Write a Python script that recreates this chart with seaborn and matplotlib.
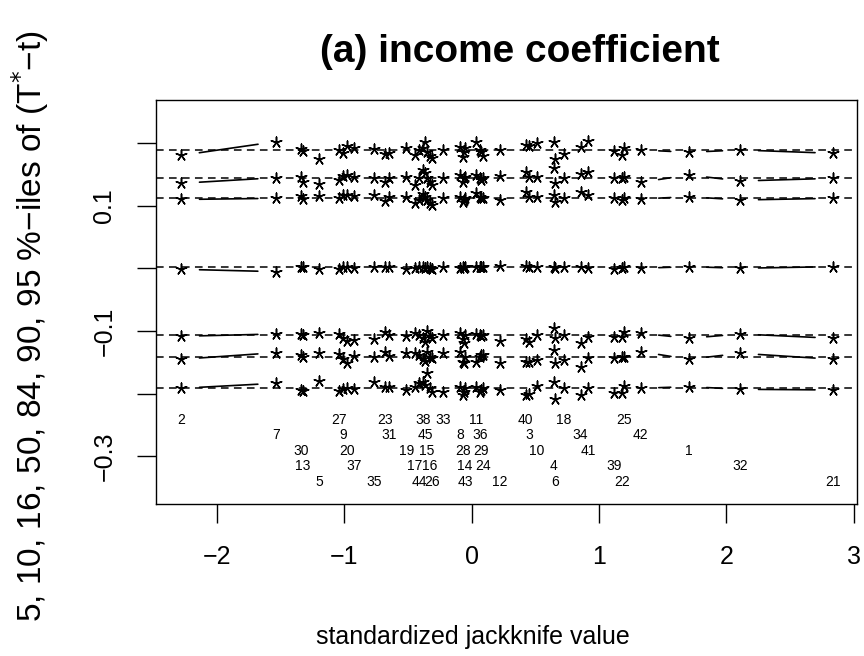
import numpy as np
import pandas as pd
import seaborn as sns
import matplotlib
matplotlib.use("Agg")
import matplotlib.pyplot as plt

sns.set_theme(style="ticks")
plt.rcParams['font.family'] = ['Liberation Sans', 'DejaVu Sans']
plt.rcParams['axes.unicode_minus'] = True
plt.rcParams['text.color'] = 'black'
plt.rcParams['axes.labelcolor'] = 'black'
plt.rcParams['xtick.color'] = 'black'
plt.rcParams['ytick.color'] = 'black'

# observations sorted by standardized jackknife value
obs_id = [2, 7, 30, 13, 5, 27, 9, 20, 37, 35, 23, 31, 19, 17, 44, 38, 45, 15, 16, 26,
          33, 8, 28, 14, 43, 11, 36, 29, 24, 12, 40, 3, 10, 4, 6, 18, 34, 41, 39, 22,
          25, 42, 1, 32, 21]
jack_value = [-2.275, -1.535, -1.339, -1.321, -1.195, -1.041, -1.007, -0.980, -0.923, -0.766,
              -0.680, -0.646, -0.510, -0.445, -0.411, -0.380, -0.364, -0.348, -0.327, -0.306,
              -0.223, -0.092, -0.066, -0.056, -0.049, 0.034, 0.065, 0.078, 0.091, 0.222,
              0.426, 0.452, 0.510, 0.645, 0.653, 0.726, 0.855, 0.914, 1.118, 1.184,
              1.195, 1.328, 1.704, 2.110, 2.836]

# percentiles of (T* - t) with each observation removed
p05 = [-0.1914, -0.1834, -0.1941, -0.1952, -0.1793, -0.1952, -0.1930, -0.1914, -0.1930, -0.1809,
       -0.1888, -0.1888, -0.1941, -0.1888, -0.1834, -0.1809, -0.1861, -0.1675, -0.1914, -0.1968,
       -0.1968, -0.1888, -0.2021, -0.1968, -0.1914, -0.1888, -0.1968, -0.1941, -0.1914, -0.1941,
       -0.2021, -0.2005, -0.1877, -0.1809, -0.2089, -0.1914, -0.2021, -0.1914, -0.1984, -0.1984,
       -0.1877, -0.1914, -0.1888, -0.1930, -0.1941]
p10 = [-0.1451, -0.1346, -0.1383, -0.1410, -0.1356, -0.1367, -0.1451, -0.1515, -0.1399, -0.1410,
       -0.1330, -0.1399, -0.1356, -0.1356, -0.1383, -0.1451, -0.1474, -0.1330, -0.1410, -0.1435,
       -0.1356, -0.1330, -0.1490, -0.1515, -0.1410, -0.1490, -0.1419, -0.1383, -0.1383, -0.1515,
       -0.1490, -0.1502, -0.1463, -0.1303, -0.1515, -0.1463, -0.1569, -0.1435, -0.1435, -0.1419,
       -0.1410, -0.1330, -0.1451, -0.1356, -0.1451]
p16 = [-0.1085, -0.1048, -0.1048, -0.1064, -0.1027, -0.1048, -0.1116, -0.1155, -0.1144, -0.1132,
       -0.1011, -0.1064, -0.1080, -0.1037, -0.1064, -0.1116, -0.1171, -0.0995, -0.1080, -0.1116,
       -0.1064, -0.1037, -0.1132, -0.1196, -0.1064, -0.1048, -0.1064, -0.1080, -0.1064, -0.1155,
       -0.1132, -0.1171, -0.1064, -0.0957, -0.1116, -0.1064, -0.1196, -0.1091, -0.1091, -0.1091,
       -0.1011, -0.1037, -0.1116, -0.1048, -0.1116]
p50 = [-0.0016, -0.0054, 0.0026, 0.0021, -0.0016, -0.0016, 0.0026, 0.0026, 0.0000, 0.0026,
       0.0026, 0.0026, -0.0016, 0.0005, 0.0021, 0.0026, 0.0000, 0.0021, 0.0000, -0.0016,
       0.0026, 0.0000, 0.0026, 0.0000, 0.0021, 0.0026, 0.0026, 0.0021, 0.0026, 0.0037,
       0.0037, 0.0026, 0.0026, 0.0026, 0.0000, 0.0026, 0.0026, 0.0000, -0.0016, 0.0000,
       0.0026, 0.0000, 0.0026, 0.0000, 0.0026]
p84 = [0.1097, 0.1116, 0.1153, 0.1100, 0.1153, 0.1116, 0.1169, 0.1169, 0.1153, 0.1169,
       0.1073, 0.1137, 0.1142, 0.1037, 0.1089, 0.1180, 0.1142, 0.1089, 0.1037, 0.1010,
       0.1116, 0.1142, 0.1062, 0.1089, 0.1126, 0.1196, 0.1142, 0.1126, 0.1116, 0.1089,
       0.1212, 0.1137, 0.1137, 0.1169, 0.1062, 0.1126, 0.1222, 0.1169, 0.1126, 0.1089,
       0.1126, 0.1105, 0.1142, 0.1089, 0.1116]
p90 = [0.1356, 0.1445, 0.1461, 0.1381, 0.1340, 0.1408, 0.1472, 0.1488, 0.1456, 0.1445,
       0.1381, 0.1445, 0.1461, 0.1329, 0.1435, 0.1568, 0.1515, 0.1445, 0.1381, 0.1329,
       0.1445, 0.1488, 0.1381, 0.1445, 0.1461, 0.1488, 0.1445, 0.1408, 0.1435, 0.1477,
       0.1541, 0.1461, 0.1461, 0.1595, 0.1356, 0.1445, 0.1499, 0.1541, 0.1445, 0.1435,
       0.1461, 0.1372, 0.1488, 0.1392, 0.1435]
p95 = [0.1802, 0.2019, 0.1903, 0.1871, 0.1743, 0.1887, 0.1839, 0.1951, 0.1919, 0.1903,
       0.1818, 0.1834, 0.1923, 0.1807, 0.1887, 0.1914, 0.2010, 0.1860, 0.1796, 0.1764,
       0.1887, 0.1939, 0.1780, 0.1860, 0.1914, 0.2010, 0.1887, 0.1860, 0.1796, 0.1887,
       0.1967, 0.1955, 0.1994, 0.2010, 0.1738, 0.1818, 0.1939, 0.2030, 0.1871, 0.1807,
       0.1923, 0.1887, 0.1850, 0.1887, 0.1834]

# percentiles from the full bootstrap (dashed lines)
overall = [-0.1914, -0.1410, -0.1064, 0.0021, 0.1126, 0.1445, 0.1887]

pct_cols = {"5": p05, "10": p10, "16": p16, "50": p50, "84": p84, "90": p90, "95": p95}
df = pd.DataFrame({"jack": jack_value, "obs": obs_id, **pct_cols})
long_df = df.melt(id_vars=["jack", "obs"], var_name="pct", value_name="value")

fig = plt.figure(figsize=(8.64, 6.56), dpi=100)
ax = fig.add_axes([156 / 864, 1 - 504 / 656, 701 / 864, 404 / 656])
ax.set_xlim(-2.475, 3.024)
ax.set_ylim(-0.376, 0.2684)

for h in overall:
    ax.axhline(h, color="black", lw=1.1, dashes=(5, 3.5), zorder=1)


def gapped_line(ax, xs, ys, gap=18):
    # lines joining points with a gap around each point (R type="b")
    pts = ax.transData.transform(np.column_stack([xs, ys]))
    inv = ax.transData.inverted()
    for p, q in zip(pts[:-1], pts[1:]):
        d = q - p
        L = np.hypot(*d)
        if L <= 2 * gap:
            continue
        u = d / L
        a = inv.transform(p + u * gap)
        b = inv.transform(q - u * gap)
        ax.plot([a[0], b[0]], [a[1], b[1]], color="black", lw=1.2, zorder=2)


for col in pct_cols:
    gapped_line(ax, df["jack"].values, df[col].values)

sns.scatterplot(data=long_df, x="jack", y="value", marker=(5, 2, 0), s=60,
                color="black", linewidth=1.1, legend=False, ax=ax, zorder=3)
ax.set_xlabel("")
ax.set_ylabel("")

# observation numbers, five staggered rows
for i, (oid, xv) in enumerate(zip(obs_id, jack_value)):
    row = i % 5
    ax.text(xv, -0.242 - row * 0.0247, str(oid), ha="center", va="center", fontsize=10)

ax.set_xticks([-2, -1, 0, 1, 2, 3])
ax.set_xticklabels(["\u22122", "\u22121", "0", "1", "2", "3"], fontsize=18)
ax.set_yticks([-0.3, -0.2, -0.1, 0.0, 0.1, 0.2])
ax.set_yticklabels(["\u22120.3", "", "\u22120.1", "", "0.1", ""], fontsize=18,
                   rotation=90, va="center")
ax.tick_params(axis="both", direction="out", length=13.5, width=1.0, color="black")
ax.tick_params(axis="x", pad=16)
ax.tick_params(axis="y", pad=15)
for s in ax.spines.values():
    s.set_linewidth(1.0)
    s.set_color("black")

fig.text(473 / 864, 1 - 637 / 656, "standardized jackknife value", fontsize=18,
         ha="center", va="center")
fig.text(30 / 864, 1 - 326 / 656, "5, 10, 16, 50, 84, 90, 95 %\u2212iles of (T$^{*}$\u2212t)",
         fontsize=24, rotation=90, ha="center", va="center")
fig.text(520 / 864, 1 - 52 / 656, "(a) income coefficient", fontsize=28,
         fontweight="bold", ha="center", va="center")

fig.savefig("out.png", dpi=100)
